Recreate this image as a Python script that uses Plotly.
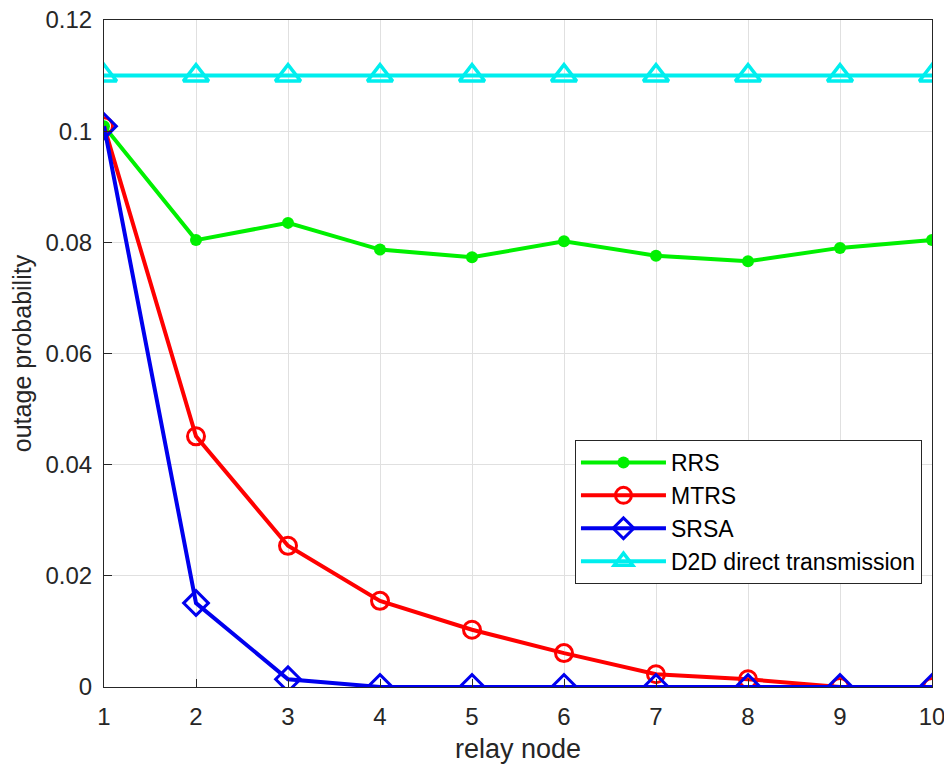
import plotly.graph_objects as go

relay = [1, 2, 3, 4, 5, 6, 7, 8, 9, 10]
rrs = [0.1009, 0.0804, 0.0835, 0.0787, 0.0773, 0.0802, 0.0776, 0.0766, 0.0790, 0.0804]
mtrs = [0.1009, 0.0451, 0.0254, 0.0155, 0.0103, 0.0061, 0.0023, 0.0014, 0.0, 0.0]
srsa = [0.1009, 0.0151, 0.0014, 0.0, 0.0, 0.0, 0.0, 0.0, 0.0, 0.0]
d2d = [0.11] * 10

yticks = [0, 0.02, 0.04, 0.06, 0.08, 0.1, 0.12]
ytext = ["0", "0.02", "0.04", "0.06", "0.08", "0.1", "0.12"]

FONT = "Liberation Sans, Arial, sans-serif"
INK = "#262626"

fig = go.Figure()
fig.add_trace(go.Scatter(x=relay, y=rrs, name="RRS", mode="lines+markers",
                         line=dict(color="#00f000", width=4),
                         marker=dict(symbol="circle", size=12, color="#00f000")))
fig.add_trace(go.Scatter(x=relay, y=mtrs, name="MTRS", mode="lines+markers",
                         line=dict(color="#ff0000", width=4),
                         marker=dict(symbol="circle-open", size=17, color="#ff0000", line=dict(width=3))))
fig.add_trace(go.Scatter(x=relay, y=srsa, name="SRSA", mode="lines+markers",
                         line=dict(color="#0000ee", width=4),
                         marker=dict(symbol="diamond-open", size=19, color="#0000ee", line=dict(width=3))))
fig.add_trace(go.Scatter(x=relay, y=d2d, name="D2D direct transmission", mode="lines+markers",
                         line=dict(color="#00eeee", width=4),
                         marker=dict(symbol="triangle-up-open", size=22, color="#00eeee", line=dict(width=3.5))))

def axis(**kw):
    d = dict(showline=True, linecolor=INK, linewidth=1, mirror=True,
             ticks="inside", ticklen=8, tickcolor=INK, automargin=False,
             ticklabeloverflow="allow",
             showgrid=True, gridcolor="#e0e0e0", gridwidth=1, zeroline=False,
             tickfont=dict(family=FONT, size=24, color=INK))
    d.update(kw)
    return d

fig.update_layout(
    width=944, height=765,
    margin=dict(l=104, r=12, t=20, b=78),
    paper_bgcolor="white", plot_bgcolor="white",
    font=dict(family=FONT, color=INK, size=24),
    xaxis=axis(range=[1, 10], tickvals=relay, ticklabelstandoff=8,
               title=dict(text="relay node", standoff=10,
                          font=dict(family=FONT, size=27, color=INK))),
    yaxis=axis(range=[0, 0.12], tickvals=yticks, ticktext=ytext, ticklabelstandoff=6,
               title=dict(text="outage probability", standoff=6,
                          font=dict(family=FONT, size=25, color=INK))),
    legend=dict(x=0.5688, y=0.3703, xanchor="left", yanchor="top",
                bgcolor="white", bordercolor=INK, borderwidth=1, itemwidth=85,
                font=dict(family=FONT, size=23, color="#000000"), tracegroupgap=0),
    showlegend=True,
)

fig.write_html("out.html")
